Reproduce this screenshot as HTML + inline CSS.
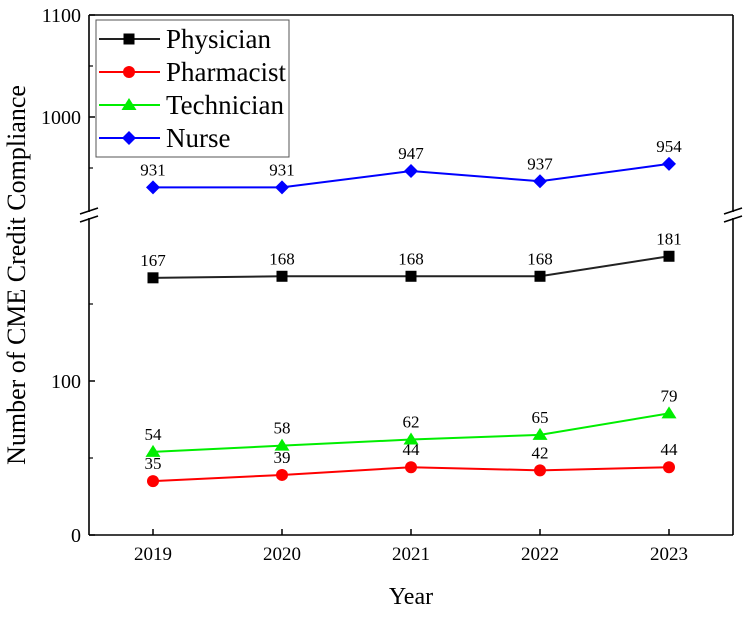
<!DOCTYPE html>
<html><head><meta charset="utf-8"><style>
body{margin:0;background:#fff}
svg text{font-family:"Liberation Serif",serif;fill:#000}
</style></head><body>
<svg id="c" width="750" height="612" xmlns="http://www.w3.org/2000/svg"></svg>
<script>
const years=["2019","2020","2021","2022","2023"];
const physician=[167,168,168,168,181];
const pharmacist=[35,39,44,42,44];
const technician=[54,58,62,65,79];
const nurse=[931,931,947,937,954];
const lowTicks=[0,100];
const highTicks=[1000,1100];
const names=["Physician","Pharmacist","Technician","Nurse"];
const colors=["#222","#ff0000","#00ee00","#0000ff"];
const markers=["square","circle","triangle","diamond"];

const NS="http://www.w3.org/2000/svg";
const svg=document.getElementById('c');
function el(t,a,p){const e=document.createElementNS(NS,t);for(const k in a)e.setAttribute(k,a[k]);(p||svg).appendChild(e);return e;}
const L=89,R=733,T=15,B=535,BRK=215;
function x(i){return 153+i*129;}
function y(v){return v>=500? 15+(1100-v)*1.02 : 535-v*1.54;}

let ax=el('g',{});


[[L,T,L,BRK-3],[L,BRK+3,L,B],[R,T,R,BRK-3],[R,BRK+3,R,B],[L,T,R,T],[L,B,R,B]].forEach(s=>el('line',{x1:s[0],y1:s[1],x2:s[2],y2:s[3],stroke:'#000','stroke-width':1.6},ax));
[L,R].forEach(xx=>{[BRK-4,BRK+4].forEach(yy=>el('line',{x1:xx-9,y1:yy+3,x2:xx+9,y2:yy-3,stroke:'#000','stroke-width':1.6},ax));});
lowTicks.concat(highTicks).forEach(v=>{
 const yy=y(v);
 el('line',{x1:L,y1:yy,x2:L+6,y2:yy,stroke:'#000','stroke-width':1.5},ax);
 const t=el('text',{x:L-8,y:yy+7,'text-anchor':'end','font-size':20},ax);t.textContent=v;
 
 
});
[50,150,950,1050].forEach(v=>el('line',{x1:L,y1:y(v),x2:L+4,y2:y(v),stroke:'#000','stroke-width':1.2},ax));
years.forEach((yr,i)=>{
 el('line',{x1:x(i),y1:B,x2:x(i),y2:B-6,stroke:'#000','stroke-width':1.5},ax);
 const t=el('text',{x:x(i),y:B+25,'text-anchor':'middle','font-size':19},ax);t.textContent=yr;
 
 
});
let xt=el('text',{x:411,y:604,'text-anchor':'middle','font-size':24});xt.textContent='Year';


let yt=el('text',{x:0,y:0,'text-anchor':'middle','font-size':26,transform:'translate(25,275) rotate(-90)'});yt.textContent='Number of CME Credit Compliance';



function marker(type,cx,cy,c,g){
 if(type==='square')return el('rect',{x:cx-5.5,y:cy-5.5,width:11,height:11,fill:'#000'},g);
 if(type==='circle')return el('circle',{cx,cy,r:6,fill:c},g);
 if(type==='triangle')return el('polygon',{points:`${cx},${cy-7} ${cx+7.5},${cy+5} ${cx-7.5},${cy+5}`,fill:c},g);
 return el('polygon',{points:`${cx},${cy-7} ${cx+7},${cy} ${cx},${cy+7} ${cx-7},${cy}`,fill:c},g);
}
[physician,pharmacist,technician,nurse].forEach((s,k)=>{
 const g=el('g',{});
 
 
 el('polyline',{points:s.map((v,i)=>x(i)+','+y(v)).join(' '),fill:'none',stroke:colors[k],'stroke-width':2},g);
 s.forEach((v,i)=>{
  const m=marker(markers[k],x(i),y(v),colors[k],g);
  
  
  const t=el('text',{x:x(i),y:y(v)-12,'text-anchor':'middle','font-size':17},g);t.textContent=v;
  
  
 });
});
const lg=el('g',{});


el('rect',{x:96,y:20,width:193,height:137,fill:'#fff',stroke:'#555','stroke-width':1},lg);
names.forEach((n,k)=>{
 const yy=39+k*33;
 const e=el('g',{},lg);
 
 
 el('line',{x1:99,y1:yy,x2:160,y2:yy,stroke:colors[k],'stroke-width':2},e);
 marker(markers[k],129,yy,colors[k],e);
 const t=el('text',{x:166,y:yy+9,'font-size':27},e);t.textContent=n;
});
</script>
</body></html>
